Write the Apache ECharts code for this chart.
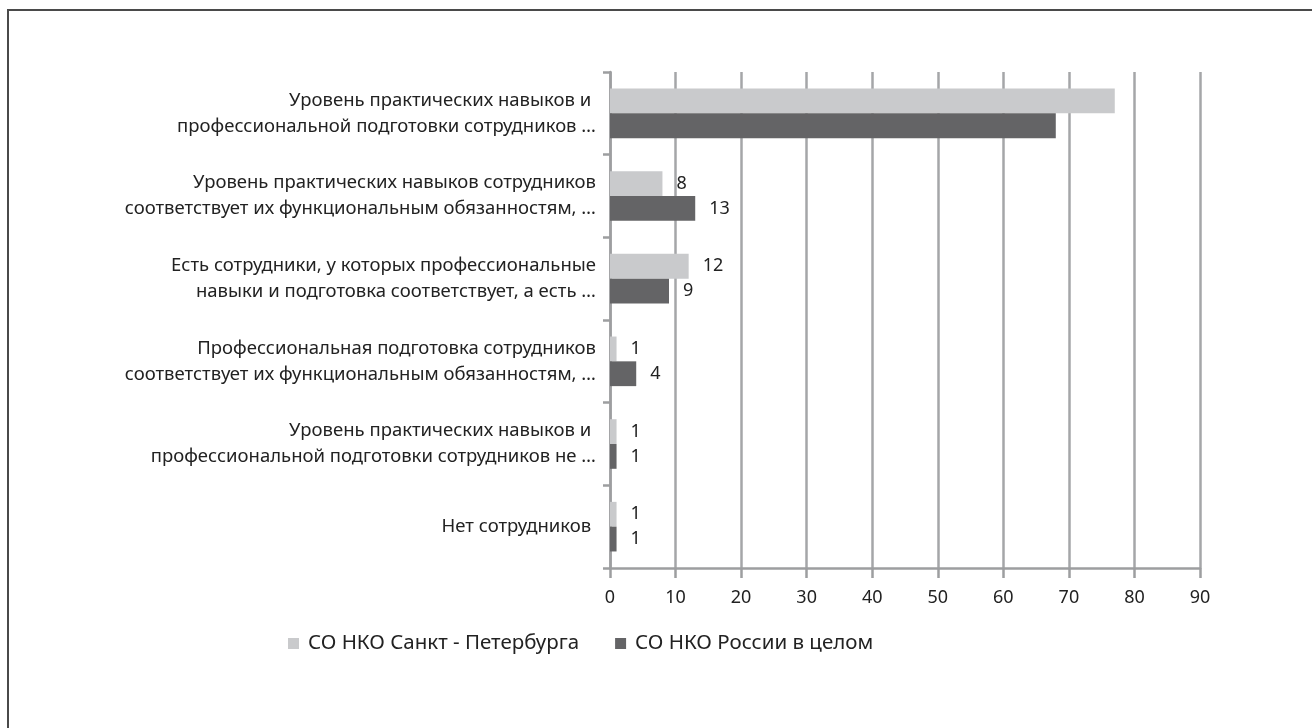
<!DOCTYPE html>
<html>
<head>
<meta charset="utf-8">
<script src="https://cdn.jsdelivr.net/npm/echarts@6/dist/echarts.min.js"></script>
<style>
  html, body { margin: 0; padding: 0; background: #fff; }
  #main { width: 1312px; height: 728px; position: relative; }
  .frame { position: absolute; left: 7px; top: 9px; right: 0; bottom: 0;
    border-top: 2px solid #4a4a4a; border-left: 2px solid #4a4a4a; pointer-events: none; }
</style>
</head>
<body>
<div style="position:relative">
  <div id="main"></div>
  <div class="frame"></div>
</div>
<script>
// категории сверху вниз
var categories = [
  'Уровень практических навыков и \nпрофессиональной подготовки сотрудников …',
  'Уровень практических навыков сотрудников\nсоответствует их функциональным обязанностям, …',
  'Есть сотрудники, у которых профессиональные\nнавыки и подготовка соответствует, а есть …',
  'Профессиональная подготовка сотрудников\nсоответствует их функциональным обязанностям, …',
  'Уровень практических навыков и \nпрофессиональной подготовки сотрудников не …',
  'Нет сотрудников '
]
var spbValues = [77, 8, 12, 1, 1, 1]
var rusValues = [68, 13, 9, 4, 1, 1]
var seriesNames = ['СО НКО Санкт - Петербурга', 'СО НКО России в целом']
var xTicks = [0, 10, 20, 30, 40, 50, 60, 70, 80, 90]

var fontFam = '"Noto Sans", "Open Sans", sans-serif'
var gridColor = '#a5a6a8'

// у самых длинных столбцов подписи в оригинале нет
function labelFor (v, i) {
  return i === 0 ? '' : String(v)
}

var myChart = echarts.init(document.getElementById('main'))
var option = {
  animation: false,
  textStyle: { fontFamily: fontFam },
  grid: { left: 610, right: 112, top: 72, bottom: 160, containLabel: false },
  legend: {
    left: 283,
    top: 628,
    itemWidth: 11,
    itemHeight: 11,
    itemGap: 36,
    icon: 'rect',
    textStyle: { fontSize: 20.5, color: '#222', fontFamily: fontFam, padding: [0, 0, 0, 4] },
    data: seriesNames
  },
  xAxis: {
    type: 'value',
    min: xTicks[0],
    max: xTicks[xTicks.length - 1],
    interval: 10,
    axisLine: { show: true, lineStyle: { color: '#9d9ea0', width: 2.5 } },
    axisTick: { show: true, length: 10, lineStyle: { color: '#9d9ea0', width: 2.5 } },
    axisLabel: { margin: 21, fontSize: 18, color: '#222', fontFamily: fontFam },
    splitLine: { show: true, lineStyle: { color: gridColor, width: 2.5 } }
  },
  yAxis: {
    type: 'category',
    inverse: true,
    data: categories,
    axisLine: { show: true, lineStyle: { color: '#9d9ea0', width: 2.5 } },
    axisTick: { show: true, length: 7, lineStyle: { color: '#9d9ea0', width: 2.5 } },
    axisLabel: {
      margin: 14,
      fontSize: 18.5,
      lineHeight: 26,
      color: '#222',
      align: 'right',
      fontFamily: fontFam
    }
  },
  series: [
    {
      name: seriesNames[0],
      type: 'bar',
      data: spbValues,
      barCategoryGap: '40%',
      barGap: '0%',
      itemStyle: { color: '#c9cacc' },
      label: {
        show: true,
        position: 'right',
        distance: 14,
        fontSize: 18,
        color: '#222',
        formatter: function (p) { return labelFor(p.value, p.dataIndex) }
      }
    },
    {
      name: seriesNames[1],
      type: 'bar',
      data: rusValues,
      barCategoryGap: '40%',
      barGap: '0%',
      itemStyle: { color: '#646466' },
      label: {
        show: true,
        position: 'right',
        distance: 14,
        fontSize: 18,
        color: '#222',
        formatter: function (p) { return labelFor(p.value, p.dataIndex) }
      }
    }
  ]
}
myChart.setOption(option)
</script>
</body>
</html>
